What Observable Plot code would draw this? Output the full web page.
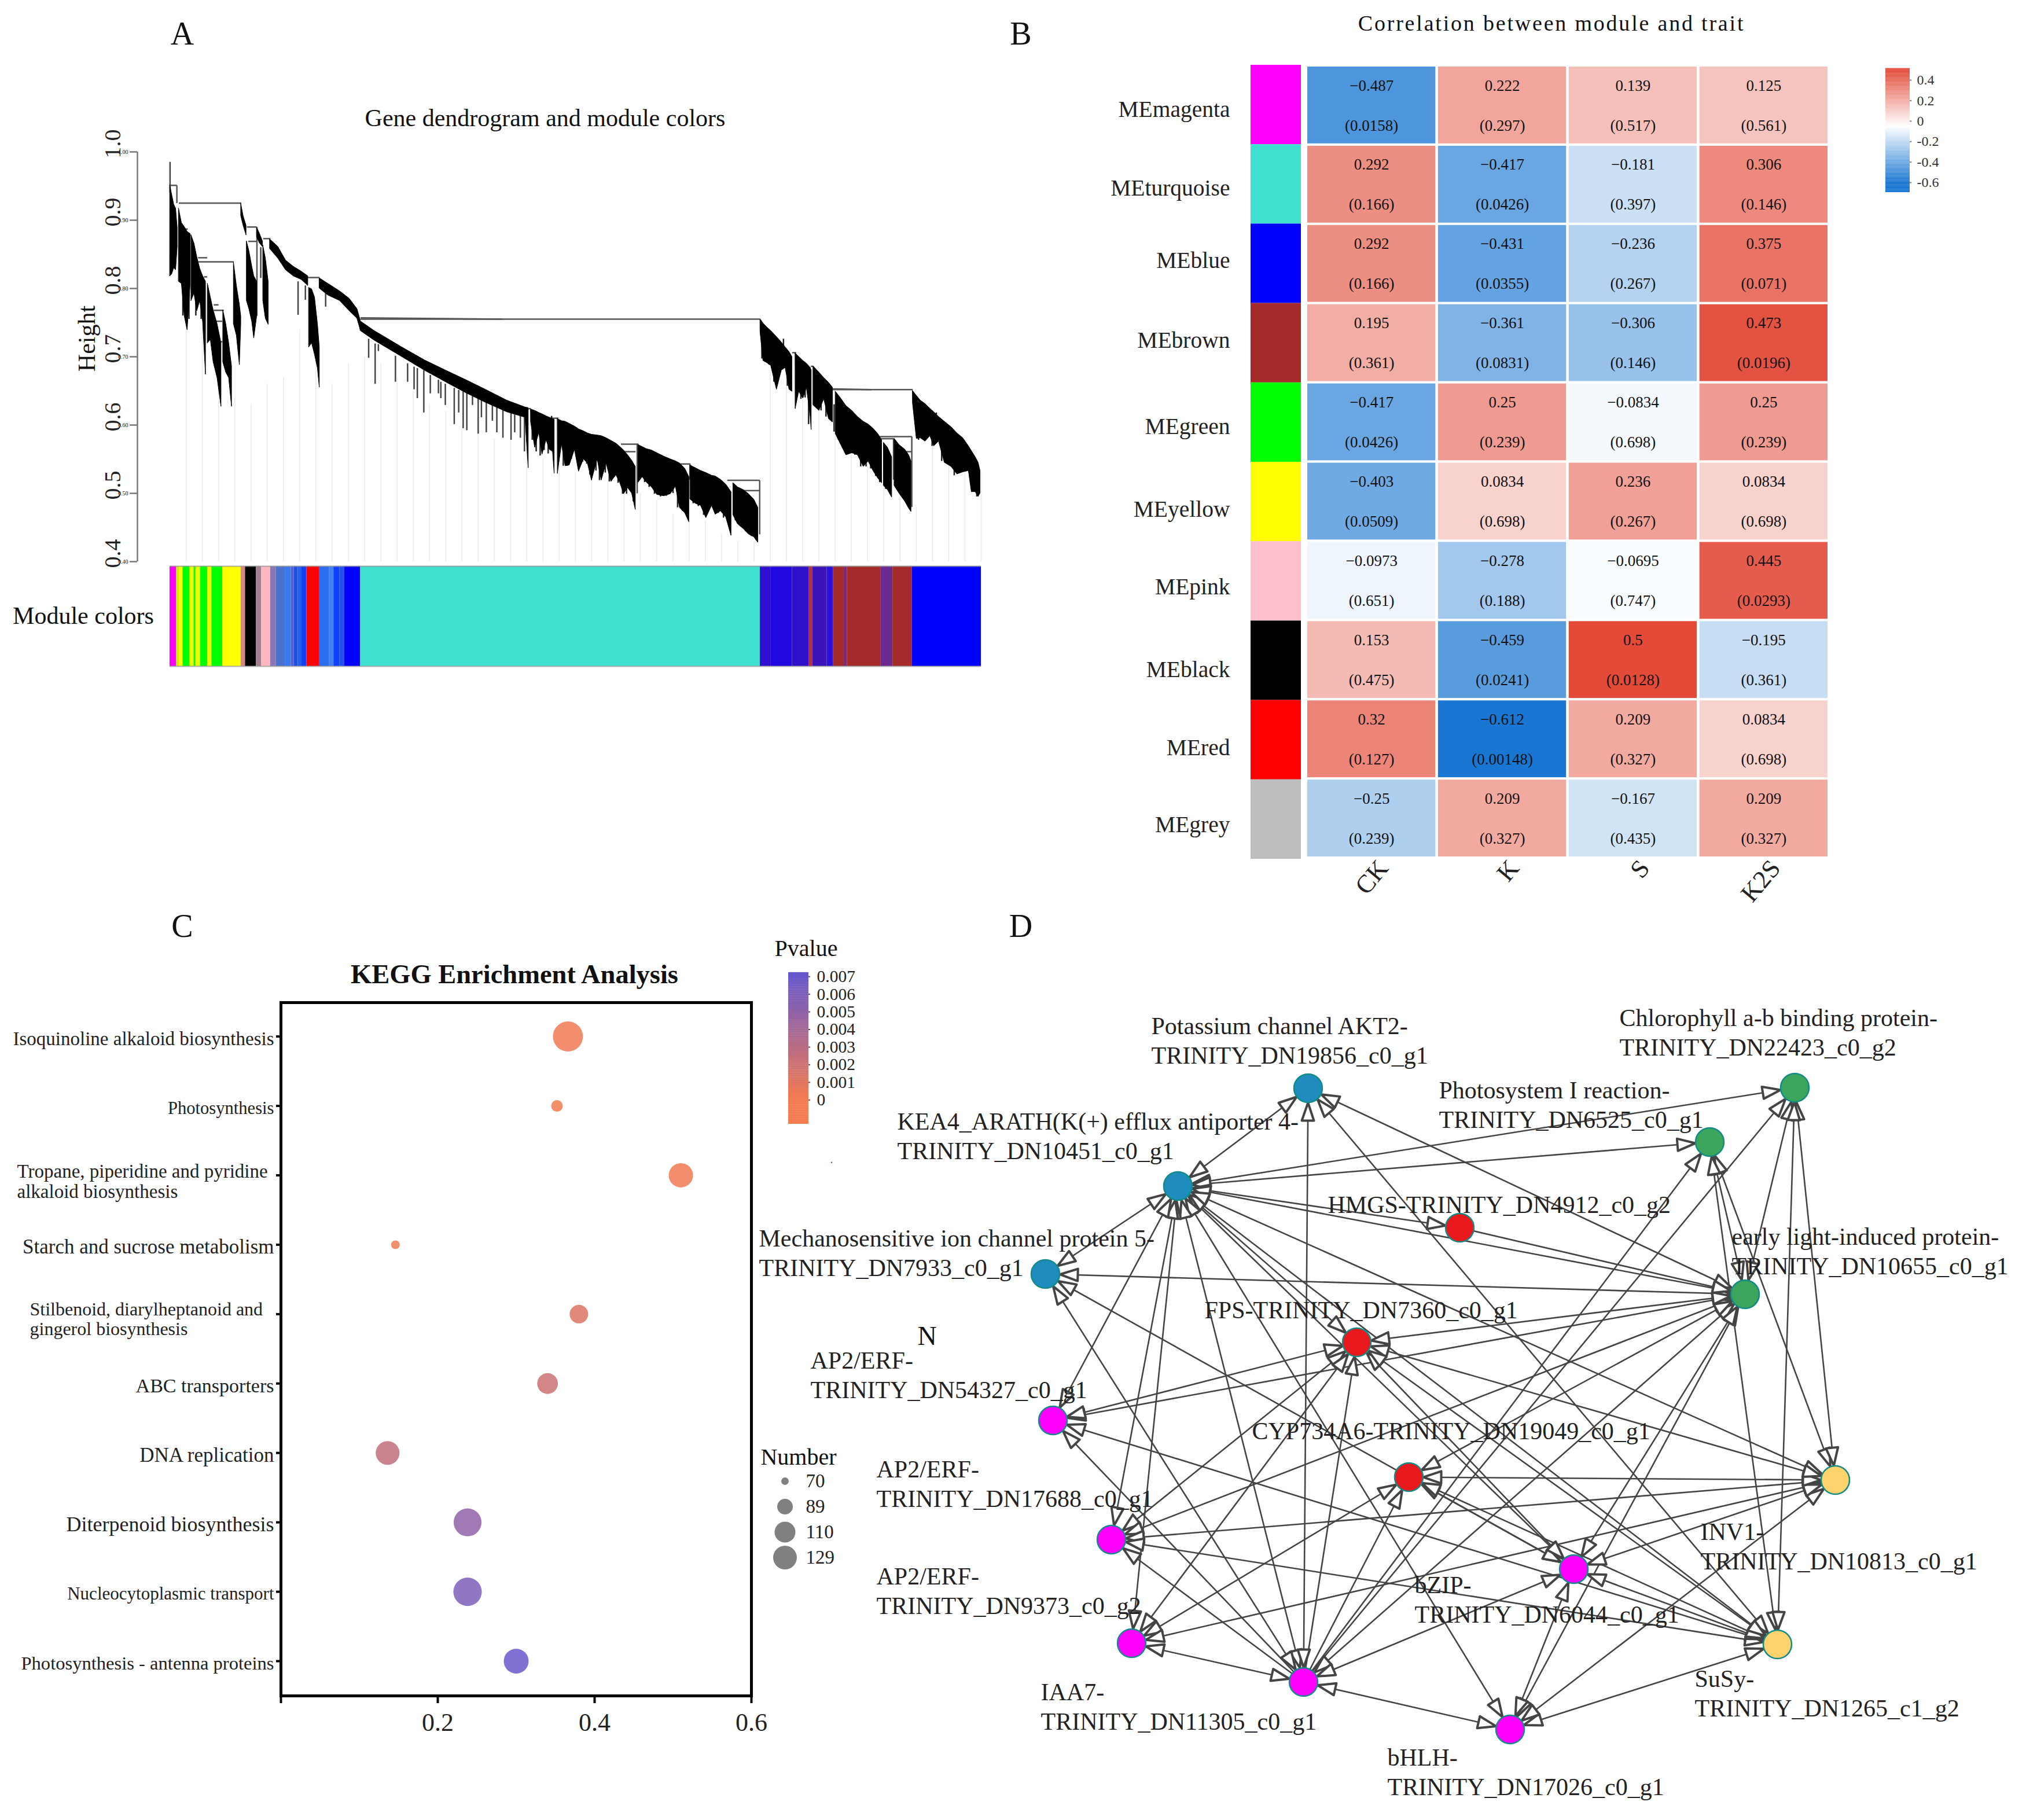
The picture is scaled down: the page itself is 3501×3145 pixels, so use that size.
<!DOCTYPE html>
<html><head><meta charset="utf-8">
<script src="https://cdn.jsdelivr.net/npm/d3@7"></script>
<script src="https://cdn.jsdelivr.net/npm/@observablehq/plot@0.6"></script>
<style>
html,body{margin:0;padding:0;background:#fff}
#page{position:relative;width:3501px;height:3145px;overflow:hidden;background:#fff;font-family:"Liberation Serif",serif;color:#111}
#page svg{position:absolute}
.t{position:absolute;white-space:pre;transform:translate(-50%,-50%);line-height:1}
</style></head><body><div id="page"></div>
<script>
// ---------- Panel A: dendrogram, x = gene rank (%), [x, top height, bottom height]
const branchL0=[[.02,.951,.818],[.26,.937,.821],[.5,.923,.83],[.74,.917,.827],[.93,.889,.861]];
const branchL1=[[1.1,.917,.81],[1.45,.896,.807],[1.81,.89,.759],[2.16,.883,.739],[2.52,.88,.804]];
const branchL2=[[2.64,.878,.782],[3,.866,.793],[3.35,.846,.767],[3.71,.829,.782],[4.07,.818,.751],[4.42,.81,.674]];
const branchL3=[[4.66,.807,.72],[5.02,.787,.725],[5.37,.768,.692],[5.85,.748,.669],[6.33,.72,.627]];
const branchL4=[[6.56,.768,.692],[6.92,.748,.677],[7.28,.72,.669],[7.63,.686,.627]];
const branchL5=[[7.87,.838,.748],[8.23,.804,.731],[8.6,.776,.688],[8.77,.759,.748]];
const branchL6=[[8.77,.924,.906],[9.06,.906,.892],[9.42,.892,.878]];
const branchL7=[[9.47,.869,.782],[9.77,.855,.77],[10.13,.832,.751],[10.37,.818,.727],[10.73,.81,.759]];
const branchL8=[[10.73,.889,.875],[11.08,.88,.866],[11.44,.869,.861]];
const branchL9=[[11.49,.863,.782],[11.8,.844,.756],[12.15,.81,.747]];
const branchL10=[[12.34,.872,.858],[13.34,.861,.844],[14.29,.841,.827],[15.24,.832,.818],[16.2,.825,.813],[17.03,.818,.804]];
const branchL11=[[17.15,.801,.714],[17.5,.799,.72],[17.86,.787,.703],[18.22,.748,.683],[18.45,.714,.655]];
const branchL12=[[18.45,.815,.8],[19.5,.807,.79],[20.95,.796,.782],[22.14,.785,.767],[23.09,.77,.756],[23.5,.753,.739]];
const branchM1=[[23.5,.752,.738],[25.2,.738,.724],[28.45,.715,.701],[31.4,.695,.68],[34,.68,.663],[36.5,.666,.647],[38.9,.652,.633],[41.55,.636,.619],[43.8,.626,.611],[44.2,.625,.537]];
const branchM2=[[44.5,.623,.604],[45,.621,.567],[45.5,.618,.589],[45.9,.616,.557],[46.4,.613,.578],[46.8,.611,.564],[47.2,.609,.561],[47.4,.608,.529]];
const branchM3=[[47.8,.609,.529],[48.3,.606,.572],[48.75,.605,.54],[49.25,.602,.541],[49.9,.598,.564],[50.4,.594,.532],[51,.591,.55],[51.5,.588,.544],[52,.586,.519],[52.7,.585,.55],[53.2,.584,.519],[53.8,.581,.544],[54.4,.577,.517],[55,.573,.527],[55.5,.568,.515],[55.95,.563,.499],[56.45,.556,.508],[56.95,.548,.5],[57.4,.539,.476]];
const branchM4=[[57.75,.571,.516],[58.25,.568,.524],[58.75,.565,.516],[59.4,.563,.509],[60.05,.559,.498],[60.9,.554,.496],[61.7,.55,.499],[62.35,.547,.51],[62.85,.544,.479],[63.5,.536,.471],[64,.524,.458]];
const branchM5=[[64.15,.541,.491],[64.8,.537,.485],[65.45,.533,.482],[66.1,.53,.464],[66.8,.526,.482],[67.25,.525,.469],[67.9,.52,.474],[68.55,.513,.465],[69.2,.502,.438]];
const branchM6=[[69.45,.515,.468],[70,.509,.455],[70.7,.505,.448],[71.35,.499,.44],[72,.491,.436],[72.5,.479,.428]];
const branchR1=[[72.78,.755,.736],[73.14,.749,.694],[73.61,.743,.691],[74.09,.738,.687],[74.8,.729,.652],[75.4,.721,.68],[75.87,.714,.684],[76.35,.707,.652],[76.7,.7,.649]];
const branchR2=[[77.11,.705,.624],[77.54,.7,.649],[78.06,.694,.639],[78.49,.69,.655],[78.96,.684,.612],[79.08,.68,.593]];
const branchR3=[[79.32,.686,.629],[80.03,.677,.621],[80.63,.669,.638],[81.22,.662,.609],[81.7,.655,.604]];
const branchR4=[[82.06,.649,.587],[82.77,.638,.57],[83.36,.628,.556],[84.08,.621,.559],[84.79,.612,.556],[85.5,.605,.539],[86.1,.601,.547],[86.69,.595,.533],[87.29,.587,.522],[87.76,.578,.515]];
const branchR5=[[88,.574,.511],[88.48,.567,.505],[89,.553,.494]];
const branchR6=[[89.31,.58,.511],[89.9,.571,.5],[90.62,.564,.488],[91.09,.556,.478],[91.38,.547,.473]];
const branchR7=[[91.57,.65,.632],[92.04,.643,.58],[92.52,.636,.581],[93.11,.631,.576],[93.71,.624,.584],[94.18,.619,.569],[94.78,.612,.576],[95.49,.605,.545],[96.32,.597,.539],[97.04,.588,.528],[97.75,.581,.531],[98.46,.569,.533],[98.82,.562,.502],[99.3,.553,.502],[99.65,.545,.495],[99.89,.533,.5]];
const branches=[branchL0,branchL1,branchL2,branchL3,branchL4,branchL5,branchL6,branchL7,branchL8,branchL9,branchL10,branchL11,branchL12,branchM1,branchM2,branchM3,branchM4,branchM5,branchM6,branchR1,branchR2,branchR3,branchR4,branchR5,branchR6,branchR7];
// single thin leaves [x, from height, to height]
const leaves=[[.02,.985,.94],[11.2,.86,.815],[15.8,.81,.761],[16.7,.804,.783],[19.2,.793,.773],[24.5,.726,.698],[25.3,.719,.66],[25.7,.718,.708],[27.8,.701,.663],[29.3,.69,.663],[30.1,.685,.652],[30.5,.683,.639],[31.3,.68,.618],[32.1,.673,.646],[33.1,.666,.646],[33.4,.663,.639],[33.95,.66,.629],[35.05,.654,.601],[35.6,.651,.618],[36.15,.649,.595],[36.6,.647,.592],[37.3,.643,.629],[38,.64,.587],[38.4,.637,.611],[39,.635,.589],[39.75,.629,.606],[40.3,.626,.589],[41.05,.622,.581],[42.05,.618,.578],[42.5,.615,.589],[43.2,.613,.581],[43.7,.612,.561]];
// low ends of the fringe of leaves under the solid branches [x, height]
const fringe=[[1.6,.76],[2.35,.755],[3.2,.76],[3.85,.755],[4.25,.74],[44.66,.578],[45.15,.561],[45.64,.555],[46.13,.563],[46.63,.558],[47.05,.573],[48.49,.54],[48.95,.54],[49.48,.55],[50.13,.556],[50.88,.546],[51.38,.543],[51.77,.527],[52.52,.533],[52.95,.519],[53.67,.53],[54.16,.517],[54.81,.524],[55.24,.515],[55.8,.499],[56.29,.499],[56.71,.51],[57.11,.488],[58.02,.524],[58.51,.516],[59.07,.509],[59.73,.499],[60.48,.495],[61.2,.496],[62.02,.5],[62.58,.479],[63.17,.474],[63.75,.468],[64.5,.485],[65.13,.481],[65.79,.468],[66.44,.479],[67.59,.471],[68.24,.464],[68.9,.457],[69.7,.46],[70.37,.451],[71,.444],[71.68,.437],[72.27,.431],[72.97,.697],[73.38,.693],[73.85,.688],[74.45,.663],[75.16,.683],[75.63,.686],[76.11,.657],[76.54,.652],[77.35,.646],[77.78,.638],[78.3,.64],[78.73,.601],[79.56,.629],[80.27,.621],[80.87,.612],[81.46,.607],[81.87,.59],[82.41,.578],[83,.567],[83.72,.562],[84.43,.556],[85.15,.539],[85.81,.539],[86.38,.536],[87,.525],[87.5,.516],[88.24,.506],[88.76,.502],[89.62,.508],[90.26,.494],[90.85,.483],[92.28,.578],[92.8,.58],[93.42,.584],[93.95,.569],[94.47,.578],[95.13,.547],[95.97,.542],[96.68,.526],[97.4,.533],[98.11,.532],[99.06,.504],[99.46,.495]];
// merge lines [x1, height1, x2, height2]
const merges=[[0,.951,.86,.951],[.86,.951,.86,.925],[1.1,.925,8.8,.925],[1.7,.887,2.2,.887],[1.8,.88,2.5,.88],[1.8,.871,2.4,.871],[3.47,.845,4.6,.845],[3.47,.839,7.87,.839],[4.2,.817,4.6,.817],[5.4,.776,6,.776],[5.4,.768,6.64,.768],[5.5,.752,6.45,.752],[6.2,.722,6.45,.722],[9.5,.89,10.7,.89],[9.66,.869,10.7,.869],[10.73,.89,10.73,.76],[11.5,.873,12.4,.873],[16.9,.816,18.45,.816],[23.5,.755,72.7,.755],[23.5,.757,41,.755],[43.8,.624,44.5,.624],[47.1,.61,47.9,.61],[55.6,.572,57.75,.572],[55.6,.561,57.4,.561],[57.6,.572,57.6,.5],[62.85,.543,64.15,.543],[64.1,.543,64.1,.52],[68.7,.519,72.7,.519],[70.7,.504,72.7,.504],[72.7,.519,72.7,.44],[76.7,.706,77.2,.706],[79,.686,79.3,.686],[81.7,.652,91.57,.652],[81.7,.653,86.5,.652],[87.5,.583,91.45,.583],[87.5,.58,89.2,.58],[90.6,.561,91.45,.561],[91.45,.583,91.45,.48],[89.2,.58,89.2,.52]];
// faint guide lines from each sampled position to the top of its fringe
const guideX=[2,4,6,8,10,12,14,16,18,20,22,24,26,28,30,32,34,36,38,40,42,44,46,48,50,52,54,56,58,60,62,64,66,68,70,72,74,76,78,80,82,84,86,88,90,92,94,96,98,100];
const guideTop=[.75,.74,.66,.64,.63,.66,.67,.74,.72,.66,.69,.7,.69,.67,.65,.63,.62,.6,.59,.58,.58,.56,.55,.54,.53,.53,.52,.51,.5,.49,.47,.46,.46,.44,.43,.43,.68,.67,.65,.63,.6,.58,.56,.53,.5,.48,.61,.59,.57,.53];
const heightTicks=[.4,.5,.6,.7,.8,.9,1];
// module colour strip: end of each stretch (%) and its colour
const stripEnd=[.82,1.19,1.59,2.46,2.97,3.19,3.77,4.64,5.15,6.5,8.76,9.3,10.65,11.3,12.4,13.1,14.2,14.94,15.3,15.8,16.2,16.87,18.4,19.67,20.2,20.95,21.5,23.5,72.75,74.1,76.7,78.75,79.2,81,81.75,83.1,83.5,87.6,89.1,91.5,100];
const stripColor=["#ff00ff","#c8f000","#ffff00","#00ff00","#f0ff00","#00ff00","#e8ff00","#00ff00","#e8ff00","#00ff00","#ffff00","#d08a80","#000000","#a08090","#ffb6c1","#8878b8","#4a70d0","#3878f0","#5060d0","#2050e0","#2060f0","#1040f0","#ff0000","#2b6df0","#4080f0","#1040ff","#2050f0","#0000ff","#40e0d0","#3010d0","#2208e0","#3010c8","#b03040","#3a14b8","#2a10d8","#a52a2a","#7a2a70","#a52a2a","#6a2a90","#a52a2a","#0000ff"];

// ---------- Panel B: module-trait correlation
const modules=["MEmagenta","MEturquoise","MEblue","MEbrown","MEgreen","MEyellow","MEpink","MEblack","MEred","MEgrey"];
const moduleColors=["#ff00ff","#40e0d0","#0000ff","#a52a2a","#00ff00","#ffff00","#ffc0cb","#000000","#ff0000","#bebebe"];
const moduleLabelDy=[8,7,-5,-4,7,13,10,16,14,9];
const traits=["CK","K","S","K2S"];
const corrCK=[-0.487,0.292,0.292,0.195,-0.417,-0.403,-0.0973,0.153,0.32,-0.25];
const corrK=[0.222,-0.417,-0.431,-0.361,0.25,0.0834,-0.278,-0.459,-0.612,0.209];
const corrS=[0.139,-0.181,-0.236,-0.306,-0.0834,0.236,-0.0695,0.5,0.209,-0.167];
const corrK2S=[0.125,0.306,0.375,0.473,0.25,0.0834,0.445,-0.195,0.0834,0.209];
const pCK=[0.0158,0.166,0.166,0.361,0.0426,0.0509,0.651,0.475,0.127,0.239];
const pK=[0.297,0.0426,0.0355,0.0831,0.239,0.698,0.188,0.0241,0.00148,0.327];
const pS=[0.517,0.397,0.267,0.146,0.698,0.267,0.747,0.0128,0.327,0.435];
const pK2S=[0.561,0.146,0.071,0.0196,0.239,0.698,0.0293,0.361,0.698,0.327];
const corrTicks=[0.4,0.2,0,-0.2,-0.4,-0.6];

// ---------- Panel C: KEGG enrichment
const keggTerms=["Isoquinoline alkaloid biosynthesis","Photosynthesis","Tropane, piperidine and pyridine\nalkaloid biosynthesis","Starch and sucrose metabolism","Stilbenoid, diarylheptanoid and\ngingerol biosynthesis","ABC transporters","DNA replication","Diterpenoid biosynthesis","Nucleocytoplasmic transport","Photosynthesis - antenna proteins"];
const keggRatio=[0.366,0.352,0.51,0.146,0.38,0.34,0.136,0.238,0.238,0.30];
const keggNumber=[150,83,129,72,108,116,127,142,144,131];
const keggP=[0.0002,0.0001,0.0002,0.0001,0.0012,0.002,0.0026,0.005,0.0059,0.0069];
const keggFont=[33,30.6,33,35,32,34,35,36,31,32.6];
const pvalueTicks=[0,0.001,0.002,0.003,0.004,0.005,0.006,0.007];
const numberTicks=[70,89,110,129];

// ---------- Panel D: co-expression network (layout)
const nodeId=["A","K","M","E54","E17","E93","I","H","Z","C","F","G","P","L","Y","V","S"];
const nodeX=[2260,2035,1806,1819,1920,1955,2252,2609,2719,2434,2344,2522,2954,3101,3015,3171,3071];
const nodeY=[1880,2049,2201,2454,2660,2839,2906,2988,2711,2552,2319,2121,1973,1879,2236,2557,2841];
const nodeColor=["#1e8dbe","#1e8dbe","#1e8dbe","#ff00ff","#ff00ff","#ff00ff","#ff00ff","#ff00ff","#ff00ff","#e8191c","#e8191c","#e8191c","#3ba55c","#3ba55c","#3ba55c","#ffd36b","#ffd36b"];
const nodeLabel=["Potassium channel AKT2-\nTRINITY_DN19856_c0_g1","KEA4_ARATH(K(+) efflux antiporter 4-\nTRINITY_DN10451_c0_g1","Mechanosensitive ion channel protein 5-\nTRINITY_DN7933_c0_g1","AP2/ERF-\nTRINITY_DN54327_c0_g1","AP2/ERF-\nTRINITY_DN17688_c0_g1","AP2/ERF-\nTRINITY_DN9373_c0_g2","IAA7-\nTRINITY_DN11305_c0_g1","bHLH-\nTRINITY_DN17026_c0_g1","bZIP-\nTRINITY_DN6044_c0_g1","CYP734A6-TRINITY_DN19049_c0_g1","FPS-TRINITY_DN7360_c0_g1","HMGS-TRINITY_DN4912_c0_g2","Photosystem I reaction-\nTRINITY_DN6525_c0_g1","Chlorophyll a-b binding protein-\nTRINITY_DN22423_c0_g2","early light-induced protein-\nTRINITY_DN10655_c0_g1","INV1-\nTRINITY_DN10813_c0_g1","SuSy-\nTRINITY_DN1265_c1_g2"];
const labelX=[1989,1550,1311,1400,1514,1514,1798,2397,2444,2163,2081,2294,2486,2798,2992,2938,2928];
const labelY=[1796,1961,2163,2374,2562,2747,2947,3060,2762,2470,2261,2079,1907,1782,2160,2670,2924];
const edgePairs=[["K","A"],["K","M"],["K","L"],["K","P"],["K","G"],["K","Y"],["K","F"],["K","Z"],["K","S"],["K","V"],["K","H"],["K","I"],["K","E93"],["K","E17"],["K","E54"],["A","Y"],["A","I"],["A","S"],["M","Y"],["M","I"],["M","Z"],["E54","Y"],["E54","F"],["E54","S"],["E17","F"],["E17","Y"],["E17","V"],["E17","S"],["E93","F"],["E93","C"],["E93","V"],["E93","I"],["I","Y"],["I","Z"],["I","H"],["H","Y"],["H","S"],["H","Z"],["H","V"],["Z","Y"],["Z","V"],["Z","C"],["Z","F"],["Z","S"],["C","V"],["C","Y"],["C","S"],["F","Y"],["F","V"],["F","S"],["Y","P"],["Y","L"],["P","V"],["P","S"],["L","V"],["L","S"]];
const oneWayEdges=[["G","Y"],["I","F"],["I","C"],["I","P"],["I","L"],["I","E54"],["I","E17"]];

// ---------- page helpers
const page=document.getElementById("page");
const SERIF='"Liberation Serif","Times New Roman",serif';
const baseStyle={fontFamily:SERIF,background:"transparent",maxWidth:"none",overflow:"visible",color:"#111"};
function place(svg,left,top){svg.style.left=left+"px";svg.style.top=top+"px";svg.style.position="absolute";page.appendChild(svg);}
function label(text,x,y,size,extra={}){const d=document.createElement("div");d.className="t";d.textContent=text;d.style.left=x+"px";d.style.top=y+"px";d.style.fontSize=size+"px";Object.assign(d.style,extra);page.appendChild(d);return d;}

// panel letters and titles
label("A",315,58,56);label("B",1764,58,56);label("C",315,1600,56);label("D",1764,1600,56);
label("Gene dendrogram and module colors",942,204,42);
label("Correlation between module and trait",2681,40,38,{letterSpacing:"2.8px"});
label("KEGG Enrichment Analysis",889,1684,46.5,{fontWeight:"bold"});
label("Height",150,585,42,{transform:"translate(-50%,-50%) rotate(-90deg)",fontWeight:"500"});
label("Module colors",144,1064,42);
label("Pvalue",1393,1639,40);label("Number",1380,2518,40);
label("N",1602,2309,46);label(".",1437,2003,20,{color:"#666"});

// ---------- A
const dendroRows=branches.flatMap((b,i)=>b.map(([x,top,bot])=>({branch:i,x,top,bot})));
place(Plot.plot({
  width:1720,height:760,marginLeft:237,marginRight:25,marginTop:22,marginBottom:30,
  style:baseStyle,
  x:{domain:[-4,100],axis:null},
  y:{domain:[.4,1],axis:null},
  marks:[
    Plot.ruleX(guideX.map((x,i)=>({x,top:guideTop[i]})),{x:"x",y1:.4,y2:"top",stroke:"#e9e9e9",strokeWidth:1.5}),
    Plot.ruleX([-4],{y1:.4,y2:1,stroke:"#777",strokeWidth:2.5}),
    Plot.axisY({ticks:heightTicks,tickSize:13,tickFormat:null,label:null,anchor:"left",stroke:"#777",strokeWidth:2.5}),
    Plot.text(heightTicks,{x:-4,y:d=>d,text:d=>d.toFixed(1),dx:-42,dy:-14,rotate:-90,fontSize:40,fill:"#222"}),
    Plot.link(merges,{x1:d=>d[0],y1:d=>d[1],x2:d=>d[2],y2:d=>d[3],stroke:"#555",strokeWidth:2.5}),
    Plot.ruleX(leaves,{x:d=>d[0],y1:d=>d[1],y2:d=>d[2],stroke:"#444",strokeWidth:2.5}),
    Plot.ruleX(fringe,{x:d=>d[0],y1:d=>d[1],y2:d=>d[1]+.04,stroke:"#222",strokeWidth:2.5}),
    Plot.areaY(dendroRows,{x:"x",y1:"top",y2:"bot",z:"branch",fill:"#000",stroke:"#000",strokeWidth:1,curve:"linear"})
  ]
}),0,240);
const stripRows=stripEnd.map((e,i)=>({x1:i?stripEnd[i-1]:0,x2:e,c:stripColor[i]}));
place(Plot.plot({
  width:1720,height:190,marginLeft:293,marginRight:25,marginTop:8,marginBottom:9,style:baseStyle,
  x:{domain:[0,100],axis:null},y:{domain:[0,1],axis:null},
  marks:[
    Plot.rect(stripRows,{x1:"x1",x2:"x2",y1:0,y2:1,fill:"c"}),
    Plot.ruleY([0,1],{stroke:"#999",strokeWidth:2,strokeOpacity:.8})
  ]
}),0,970);

// ---------- B
const corrColumns=[corrCK,corrK,corrS,corrK2S], pColumns=[pCK,pK,pS,pK2S];
const heatRows=traits.flatMap((t,j)=>modules.map((m,i)=>({trait:t,module:m,r:corrColumns[j][i],p:pColumns[j][i]})));
const corrColor={type:"linear",domain:[-.612,-.056,.5],range:["#1976d2","#ffffff","#e34a38"],interpolate:"rgb",clamp:true};
place(Plot.plot({
  width:1060,height:1460,marginLeft:109,marginRight:52,marginTop:15,marginBottom:80,style:baseStyle,
  x:{domain:traits,type:"band",paddingInner:.02,paddingOuter:0,round:false,label:null},
  y:{domain:modules,type:"band",paddingInner:.03,paddingOuter:0,round:false,axis:null},
  color:corrColor,
  marks:[
    Plot.cell(heatRows,{x:"trait",y:"module",fill:"r"}),
    Plot.text(heatRows,{x:"trait",y:"module",text:d=>String(d.r).replace("-","\u2212"),dy:-34,fontSize:27,fill:"#111"}),
    Plot.text(heatRows,{x:"trait",y:"module",text:d=>`(${d.p})`,dy:35,fontSize:27,fill:"#111"}),
    Plot.axisX({tickSize:0,tickRotate:-50,tickPadding:12,fontSize:44,dx:20,fill:"#222",label:null})
  ]
}),2150,100);
place(Plot.plot({
  width:270,height:1400,marginLeft:161,marginRight:22,marginTop:12,marginBottom:16,style:baseStyle,
  x:{domain:["swatch"],type:"band",padding:0,axis:null},
  y:{domain:modules,type:"band",padding:0,round:false,axis:null},
  marks:[
    Plot.cell(modules,{x:()=>"swatch",y:d=>d,fill:(d,i)=>moduleColors[i]}),
    ...modules.map((m,i)=>Plot.text([m],{y:d=>d,frameAnchor:"left",dx:-36,dy:moduleLabelDy[i],textAnchor:"end",fontSize:39.5,fill:"#222"}))
  ]
}),2000,100);
// correlation colour key (a stack of thin strips)
const corrKey=d3.range(-.696,.513,.01);
place(Plot.plot({
  width:170,height:240,marginLeft:8,marginRight:120,marginTop:8,marginBottom:18,style:baseStyle,
  x:{domain:[0,1],axis:null},y:{domain:[-.696,.513],axis:null},color:corrColor,
  marks:[
    Plot.rect(corrKey,{x1:0,x2:1,y1:d=>d,y2:d=>d+.011,fill:d=>d}),
    Plot.ruleY(corrTicks,{x1:1,x2:1.08,stroke:"#888",strokeWidth:2}),
    Plot.text(corrTicks,{x:1,y:d=>d,dx:12,textAnchor:"start",fontSize:24,fill:"#333",text:d=>String(d)})
  ]
}),3250,110);

// ---------- C
const keggRows=keggTerms.map((t,i)=>({term:t,ratio:keggRatio[i],n:keggNumber[i],p:keggP[i],size:keggFont[i]}));
const oneLine=keggRows.filter(d=>!d.term.includes("\n")), twoLine=keggRows.filter(d=>d.term.includes("\n"));
const pColor={type:"linear",domain:[0,.007],range:["#f47b4f","#6658cc"],interpolate:"rgb",clamp:true};
place(Plot.plot({
  width:1310,height:1340,marginLeft:485,marginRight:12,marginTop:32,marginBottom:110,style:baseStyle,
  x:{domain:[0,.6],label:null},
  y:{type:"point",domain:keggTerms,range:[90.6,1170],padding:0,round:false,label:null},
  r:{type:"linear",domain:[70,129],range:[7,21]},
  color:pColor,
  marks:[
    Plot.frame({stroke:"#000",strokeWidth:5}),
    Plot.axisX({ticks:[0,.2,.4,.6],tickFormat:d=>d?String(d):"",tickSize:13,tickPadding:16,fontSize:44,strokeWidth:4,stroke:"#000",fill:"#222",label:null}),
    Plot.axisY({tickSize:8,tickFormat:null,strokeWidth:4,stroke:"#000",label:null}),
    Plot.dot(keggRows,{x:"ratio",y:"term",r:"n",fill:"p",fillOpacity:.85}),
    Plot.text(oneLine,{y:"term",text:"term",frameAnchor:"left",dx:-12,dy:4,textAnchor:"end",fontSize:"size",fill:"#222"}),
    Plot.text(twoLine.slice(0,1),{y:"term",text:"term",frameAnchor:"left",dx:-456,dy:10,textAnchor:"start",fontSize:"size",lineHeight:1.07,fill:"#222"}),
    Plot.text(twoLine.slice(1),{y:"term",text:"term",frameAnchor:"left",dx:-434,dy:8,textAnchor:"start",fontSize:"size",lineHeight:1.07,fill:"#222"})
  ]
}),0,1700);
// p-value colour key
const pKey=d3.range(-.00137,.00717,.0001);
place(Plot.plot({
  width:200,height:290,marginLeft:12,marginRight:153,marginTop:12,marginBottom:18,style:baseStyle,
  x:{domain:[0,1],axis:null},y:{domain:[-.00137,.00717],axis:null},color:pColor,
  marks:[
    Plot.rect(pKey,{x1:0,x2:1,y1:d=>d,y2:d=>d+.00011,fill:d=>d}),
    Plot.ruleY(pvalueTicks,{x1:1,x2:1.09,stroke:"#555",strokeWidth:2}),
    Plot.text(pvalueTicks,{x:1,y:d=>d,dx:14,textAnchor:"start",fontSize:29.5,fill:"#222",text:d=>d?d.toFixed(3):"0"})
  ]
}),1350,1670);
// number key
place(Plot.plot({
  width:180,height:210,marginLeft:0,marginRight:0,marginTop:0,marginBottom:0,style:baseStyle,
  x:{domain:[0,1],axis:null},
  y:{type:"point",domain:numberTicks,range:[18,152],padding:0,axis:null},
  r:{type:"linear",domain:numberTicks,range:[6.5,13.5,18,20.5]},
  marks:[
    Plot.dot(numberTicks,{x:.3,y:d=>d,r:d=>d,fill:"#808080"}),
    Plot.text(numberTicks,{x:.3,y:d=>d,dx:36,textAnchor:"start",fontSize:33,fill:"#222",text:d=>String(d)})
  ]
}),1302,2540);

// ---------- D
const nodes=nodeId.map((id,i)=>({id,x:nodeX[i],y:nodeY[i],c:nodeColor[i],label:nodeLabel[i],lx:labelX[i],ly:labelY[i]}));
const nodeById=new Map(nodes.map(n=>[n.id,n]));
const edgeRows=[...edgePairs,...oneWayEdges].map(([a,b])=>({a:nodeById.get(a),b:nodeById.get(b)}));
// an arrowhead sits on the target and points at it from the source
const heads=[...edgePairs.flatMap(([a,b])=>[[a,b],[b,a]]),...oneWayEdges].map(([s,t])=>{const S=nodeById.get(s),T=nodeById.get(t);return{x:T.x,y:T.y,angle:Math.atan2(S.x-T.x,-(S.y-T.y))*180/Math.PI};});
const hollowHead={draw(ctx){const tip=25,len=31,half=10.5;ctx.moveTo(0,-tip);ctx.lineTo(-half,-(tip+len));ctx.lineTo(half,-(tip+len));ctx.closePath();}};
place(Plot.plot({
  width:2200,height:1420,margin:0,style:baseStyle,
  x:{domain:[1300,3500],range:[0,2200],axis:null},
  y:{domain:[1700,3120],range:[0,1420],axis:null},
  marks:[
    Plot.link(edgeRows,{x1:d=>d.a.x,y1:d=>d.a.y,x2:d=>d.b.x,y2:d=>d.b.y,stroke:"#444",strokeWidth:2.6}),
    Plot.vector(heads,{x:"x",y:"y",rotate:"angle",length:31,anchor:"start",shape:hollowHead,fill:"#fff",stroke:"#444",strokeWidth:4}),
    Plot.dot(nodes,{x:"x",y:"y",r:24.5,fill:"c",stroke:"#138a86",strokeWidth:2.5}),
    Plot.text(nodes,{x:"lx",y:"ly",text:"label",textAnchor:"start",fontSize:42,lineHeight:1.21,fill:"#222"})
  ]
}),1300,1700);
</script></body></html>
